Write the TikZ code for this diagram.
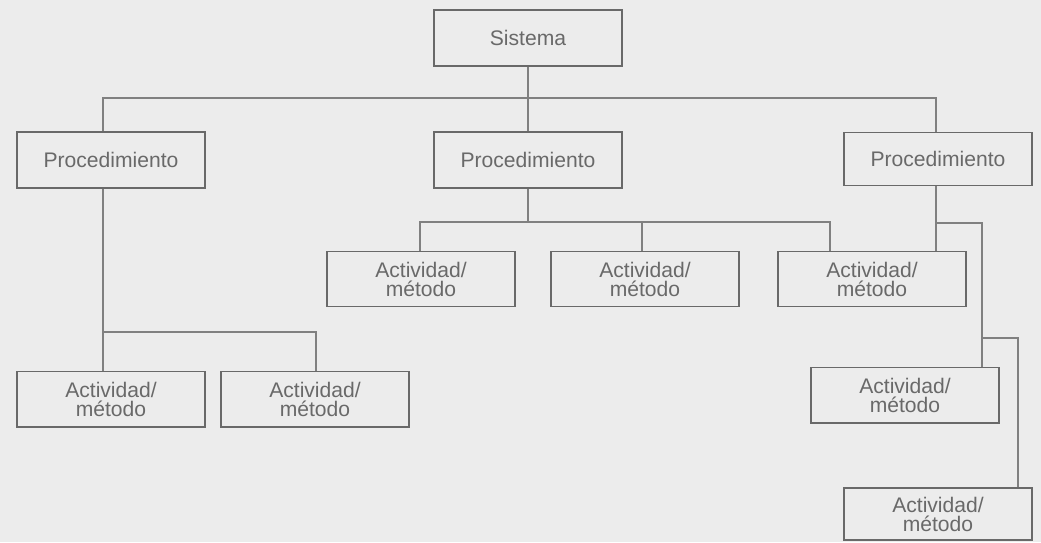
\documentclass[tikz,border=0pt]{standalone}
\usepackage{fontspec}
\setmainfont{Liberation Sans}
\usetikzlibrary{positioning}

\definecolor{paper}{RGB}{236,236,236}
\definecolor{ink}{RGB}{105,105,105}

\tikzstyle{item} = [rectangle, minimum width=4.7cm, minimum height=1.4cm, inner sep=0pt, text centered, align=center, draw=ink, line width=1.4pt, text=ink, font=\fontsize{15}{13.5}\selectfont]
\tikzstyle{act} = [item, minimum width=4.675cm, minimum height=1.375cm]
\tikzstyle{link} = [draw=ink!85, line width=1.1pt]

\begin{document}
\begin{tikzpicture}[x=0.025cm, y=-0.025cm]
\fill [paper] (0,0) rectangle (1041,542);
\useasboundingbox (0,0) rectangle (1041,542);

\node (sys) [item] at (528,38) {Sistema};
\node (proc1) [item] at (111,160) {Procedimiento};
\node (proc2) [item] at (528,160) {Procedimiento};
\node (proc3) [item, minimum height=1.325cm] at (938,159) {Procedimiento};

\node (act11) [act] at (111,399) {Actividad/\\método};
\node (act12) [act] at (315,399) {Actividad/\\método};
\node (act21) [act] at (421,279) {Actividad/\\método};
\node (act22) [act] at (645,279) {Actividad/\\método};
\node (act23) [act] at (872,279) {Actividad/\\método};
\node (act31) [act] at (905,395) {Actividad/\\método};
\node (act32) [act, minimum height=1.3cm] at (938,514) {Actividad/\\método};

% bend points
\coordinate (t1) at (103,98);
\coordinate (t3) at (936,98);
\coordinate (l1) at (103,332);
\coordinate (l2) at (316,332);
\coordinate (c1) at (420,222);
\coordinate (c2) at (642,222);
\coordinate (c3) at (830,222);
\coordinate (r1) at (936,223);
\coordinate (r2) at (982,223);
\coordinate (r3) at (982,338);
\coordinate (r4) at (1018,338);

\draw [link] (sys) -- (proc2);
\draw [link] (proc1.north -| t1) |- (t3) -- (proc3.north -| t3);

\draw [link] (proc1.south -| l1) -- (act11.north -| l1);
\draw [link] (l1) -| (act12.north -| l2);

\draw [link] (proc2.south) -- (proc2.south |- c1);
\draw [link] (act21.north -| c1) |- (c3) -- (act23.north -| c3);
\draw [link] (act22.north -| c2) -- (c2);

\draw [link] (proc3.south -| r1) -- (act23.north -| r1);
\draw [link] (r1) -| (act31.north -| r2);
\draw [link] (r3) -| (act32.north -| r4);
\end{tikzpicture}
\end{document}
